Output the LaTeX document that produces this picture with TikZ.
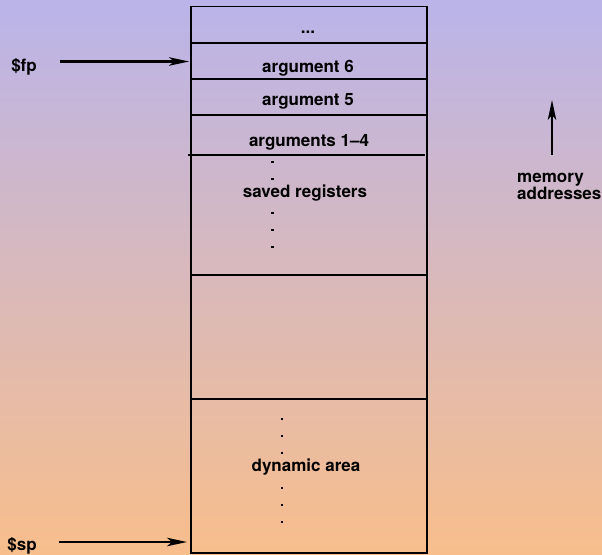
\documentclass[tikz,border=0pt]{standalone}
\usepackage{fontspec}
\setmainfont{TeX Gyre Heros}
\usetikzlibrary{arrows.meta}
\definecolor{toplav}{RGB}{186,180,234}
\definecolor{botpeach}{RGB}{248,190,140}
\begin{document}
\begin{tikzpicture}[x=1pt,y=-1pt,
  every node/.style={font=\fontsize{17}{15}\selectfont\bfseries,inner sep=0pt},
  lbl/.style={anchor=base},
  dot/.style={fill,rectangle,minimum size=2.4pt,inner sep=0pt},
  ptr/.style={line width=2.3pt,-{Stealth[length=20pt,width=8.5pt,inset=5pt]}},
  cell/.style={line width=1.3pt}]
  \shade[top color=toplav,bottom color=botpeach] (0,0) rectangle (602,554);
  \useasboundingbox (0,0) rectangle (602,554);

  \draw[cell] (191,6.5) rectangle (427,553);
  \draw[cell] (191,43) -- (427,43);
  \draw[cell] (191,79) -- (427,79);
  \draw[cell] (191,115) -- (427,115);
  \draw[cell] (188,155) -- (425,155);
  \draw[cell] (191,275) -- (428,275);
  \draw[cell] (191,399) -- (428,399);

  \node[lbl] (more) at (308,33) {...};
  \node[lbl] (arg6) at (308,72.5) {argument 6};
  \node[lbl] (arg5) at (308,105) {argument 5};
  \node[lbl] (args) at (309,146) {arguments 1--4};
  \node[lbl] (saved) at (305,197) {saved registers};
  \node[lbl] (dyn) at (306,471) {dynamic area};
  \foreach \y in {162,179,213,230,247} \node[dot] (rd\y) at (272.5,\y) {};
  \foreach \y in {419,436,453,488,505,522} \node[dot] (dd\y) at (282,\y) {};

  \node[lbl] (fp) at (24,71) {\$fp};
  \node[lbl] (sp) at (22,550) {\$sp};
  \node[anchor=west,align=left] (mem) at (517,186) {memory\\addresses};

  \coordinate (fp tip) at (189,61.5);
  \coordinate (sp tip) at (187,542);
  \coordinate (mem tip) at (552,100);
  \draw[ptr] (fp.east |- fp tip) ++(23,0) -- (fp tip);
  \draw[ptr] (sp.east |- sp tip) ++(22,0) -- (sp tip);
  \draw[ptr] (mem.north -| mem tip) ++(0,-18) -- (mem tip);
\end{tikzpicture}
\end{document}
